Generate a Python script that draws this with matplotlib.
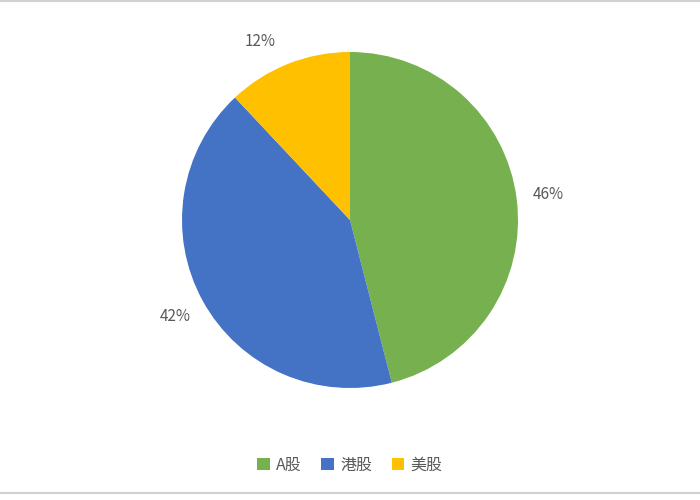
import numpy as np
import matplotlib.pyplot as plt
from matplotlib.lines import Line2D

plt.rcParams['font.family'] = ['Noto Sans CJK SC', 'DejaVu Sans']

# 데이터
labels = ['A股', '港股', '美股']
shares = [46, 42, 12]
colors = ['#76B04F', '#4472C4', '#FFC000']

fig = plt.figure(figsize=(7, 5), dpi=100)
ax = fig.add_axes([0.26, 0.224, 0.48, 0.672])

wedges, texts, autotexts = ax.pie(
    shares, colors=colors, startangle=90, counterclock=False,
    autopct='%d%%', pctdistance=1.19, radius=1.0,
    textprops={'color': '#595959', 'fontsize': 11},
)
ax.set_aspect('equal')
ax.set_xlim(-1, 1)
ax.set_ylim(-1, 1)

# 12% 라벨 위치 조금 보정 (각도 +5도)
w = wedges[2]
ang = np.deg2rad((w.theta1 + w.theta2) / 2 + 5)
autotexts[2].set_position((1.19 * np.cos(ang), 1.19 * np.sin(ang)))

leg = fig.legend(wedges, labels, loc='center', bbox_to_anchor=(0.5, 0.07),
                 ncol=3, frameon=False, handlelength=0.8, handleheight=0.8,
                 handletextpad=0.4, columnspacing=1.2, fontsize=11.5)
for t in leg.get_texts():
    t.set_color('#595959')

# 위/아래 테두리 선
fig.add_artist(Line2D([0, 1], [0.998, 0.998], transform=fig.transFigure,
                      color='#D0D0D0', linewidth=1.5))
fig.add_artist(Line2D([0, 1], [0.015, 0.015], transform=fig.transFigure,
                      color='#D0D0D0', linewidth=1.5))

fig.savefig('out.png', dpi=100)
